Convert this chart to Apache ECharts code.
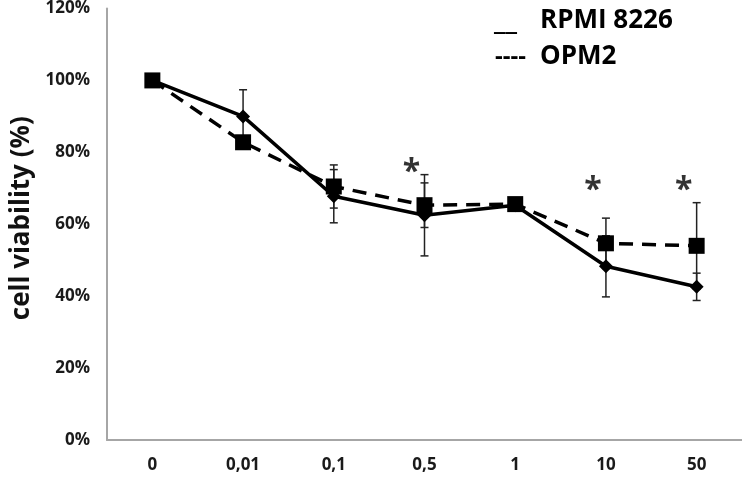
<!DOCTYPE html>
<html><head><meta charset="utf-8">
<script src="https://cdn.jsdelivr.net/npm/echarts@6/dist/echarts.min.js"></script>
<style>html,body{margin:0;padding:0;background:#fff}#c{width:742px;height:483px}</style>
</head><body><div id="c"></div>
<script>
const categories = ['0', '0,01', '0,1', '0,5', '1', '10', '50'];
const rpmiValues = [100, 90, 67.8, 62.5, 65.3, 48.3, 42.6];
const rpmiErrors = [0, 7.4, 7.4, 11.3, 1, 8.5, 3.8];
const opmValues = [100, 82.8, 70.5, 65.3, 65.6, 54.7, 54];
const opmErrors = [0, 1.5, 6, 6.2, 1, 7, 12];
const starCategories = ['0,5', '10', '50'];
const starValues = [76.4, 71.4, 71.4];
const yTicks = [0, 20, 40, 60, 80, 100, 120];
const legendNames = ['RPMI 8226', 'OPM2'];

const chart = echarts.init(document.getElementById('c'));
const font = '"Open Sans", "Liberation Sans", sans-serif';

function errSeries(vals, errs, name) {
  return {
    type: 'custom', name: name + ' err', z: 1,
    data: vals.map((v, i) => [i, v - errs[i], v + errs[i]]),
    renderItem: (params, api) => {
      const lo = api.coord([api.value(0), api.value(1)]);
      const hi = api.coord([api.value(0), api.value(2)]);
      const w = 4;
      const st = { stroke: '#222', lineWidth: 1.5 };
      return { type: 'group', children: [
        { type: 'line', shape: { x1: lo[0], y1: lo[1], x2: hi[0], y2: hi[1] }, style: st },
        { type: 'line', shape: { x1: lo[0]-w, y1: lo[1], x2: lo[0]+w, y2: lo[1] }, style: st },
        { type: 'line', shape: { x1: hi[0]-w, y1: hi[1], x2: hi[0]+w, y2: hi[1] }, style: st }
      ]};
    }
  };
}

chart.setOption({
  animation: false,
  grid: { left: 107, right: 0, top: 8, bottom: 43 },
  xAxis: {
    type: 'category', data: categories, boundaryGap: true,
    axisLine: { lineStyle: { color: '#a6a6a6', width: 2 } },
    axisTick: { show: false },
    axisLabel: { color: '#1a1a1a', fontWeight: 'bold', fontSize: 17, fontFamily: font, margin: 17 }
  },
  yAxis: {
    type: 'value', min: 0, max: 120, interval: 20,
    name: 'cell viability (%)', nameLocation: 'middle', nameGap: 72,
    nameTextStyle: { color: '#111', fontWeight: 'bold', fontSize: 26, fontFamily: font, padding: [0, 0, 0, 12] },
    axisLine: { show: true, lineStyle: { color: '#a6a6a6', width: 2 } },
    axisTick: { show: false },
    splitLine: { show: false },
    axisLabel: { color: '#1a1a1a', fontWeight: 'bold', fontSize: 17, fontFamily: font, margin: 17,
      formatter: v => (yTicks.includes(v) ? v + '%' : '') }
  },
  series: [
    errSeries(rpmiValues, rpmiErrors, legendNames[0]),
    errSeries(opmValues, opmErrors, legendNames[1]),
    {
      type: 'line', name: legendNames[0], data: rpmiValues, z: 3,
      lineStyle: { color: '#000', width: 3.5 },
      symbol: 'diamond', symbolSize: 14, itemStyle: { color: '#000' }
    },
    {
      type: 'line', name: legendNames[1], data: opmValues, z: 4,
      lineStyle: { color: '#000', width: 3.5, type: [14, 9] },
      symbol: 'rect', symbolSize: 16, itemStyle: { color: '#000' }
    },
    {
      type: 'scatter', name: 'sig', z: 5, symbolSize: 1, itemStyle: { color: 'transparent' },
      data: starCategories.map((c, i) => [c, starValues[i]]),
      label: { show: true, formatter: '*', position: 'inside', offset: [-13, 8],
        color: '#000', fontSize: 32, fontWeight: 'bold', fontFamily: font }
    }
  ],
  graphic: [
    { type: 'text', left: 494, top: 7, style: { text: '__', fill: '#000', fontSize: 28, fontWeight: 'bold', fontFamily: font } },
    { type: 'text', left: 540, top: 8, style: { text: legendNames[0], fill: '#000', fontSize: 26, fontWeight: 'bold', fontFamily: font } },
    { type: 'text', left: 495, top: 45, style: { text: '----', fill: '#000', fontSize: 24, fontWeight: 'bold', fontFamily: font } },
    { type: 'text', left: 540, top: 44, style: { text: legendNames[1], fill: '#000', fontSize: 26, fontWeight: 'bold', fontFamily: font } }
  ]
});
</script></body></html>
